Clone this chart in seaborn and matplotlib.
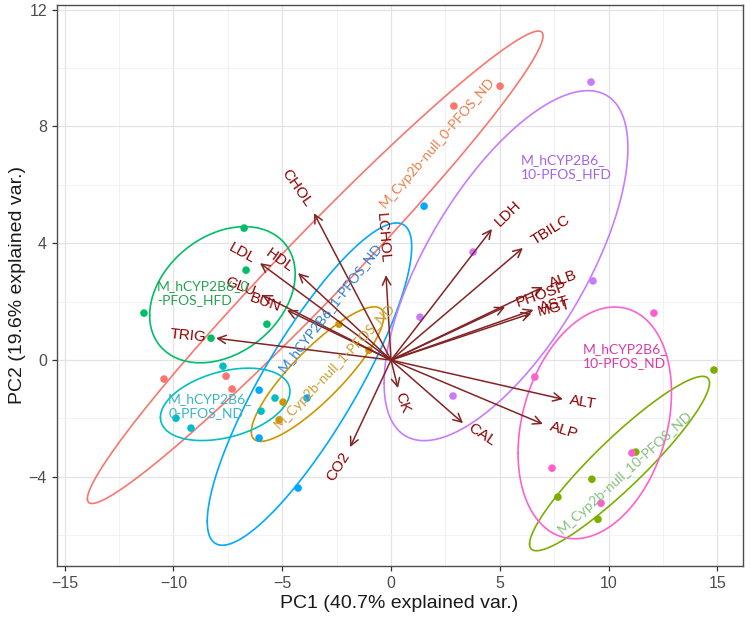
import numpy as np
import pandas as pd
import matplotlib
matplotlib.use('Agg')
import matplotlib.pyplot as plt
import seaborn as sns

# ---- sample scores (PC1 / PC2) per group ----
groups = ['M_Cyp2b-null_0-PFOS_ND', 'M_Cyp2b-null_1-PFOS_ND', 'M_Cyp2b-null_10-PFOS_ND',
          'M_hCYP2B6_0-PFOS_HFD', 'M_hCYP2B6_0-PFOS_ND', 'M_hCYP2B6_1-PFOS_ND',
          'M_hCYP2B6_10-PFOS_HFD', 'M_hCYP2B6_10-PFOS_ND']
group_colors = ['#F8766D', '#CD9600', '#7CAE00', '#00BE67',
                '#00BFC4', '#00A9FF', '#C77CFF', '#FF61CC']

null0_pc1 = [5.01, 2.89, -10.43, -7.58, -7.30]
null0_pc2 = [9.38, 8.70, -0.65, -0.55, -0.99]
null1_pc1 = [-2.39, -1.01, -4.96, -5.14]
null1_pc2 = [1.23, 0.34, -1.44, -2.05]
null10_pc1 = [14.84, 11.25, 9.23, 7.67, 9.51]
null10_pc2 = [-0.34, -3.15, -4.08, -4.69, -5.45]
h0hfd_pc1 = [-6.75, -6.66, -11.35, -5.70, -8.27]
h0hfd_pc2 = [4.52, 3.08, 1.61, 1.23, 0.75]
h0nd_pc1 = [-7.72, -9.88, -9.19, -5.33, -5.97]
h0nd_pc2 = [-0.21, -1.99, -2.33, -1.30, -1.75]
h1nd_pc1 = [1.52, -6.06, -3.86, -6.06, -4.27]
h1nd_pc2 = [5.27, -1.03, -1.30, -2.67, -4.38]
h10hfd_pc1 = [9.19, 3.77, 1.33, 9.28, 2.85]
h10hfd_pc2 = [9.52, 3.70, 1.47, 2.71, -1.23]
h10nd_pc1 = [12.08, 6.61, 7.40, 11.07, 9.65]
h10nd_pc2 = [1.61, -0.58, -3.70, -3.18, -4.90]

# ---- variable loadings (arrow tips) ----
var_names = ['CHOL', 'LDL', 'HDL', 'GLU', 'BUN', 'TRIG', 'LCHOL', 'CK', 'CO2',
             'LDH', 'TBILC', 'ALB', 'PHOSP', 'AST', 'MGT', 'ALT', 'ALP', 'CAL']
var_pc1 = [-3.54, -6.02, -4.27, -5.93, -4.78, -8.04, -0.23, 0.32, -1.88,
           4.64, 6.06, 6.98, 5.24, 6.55, 6.45, 7.90, 6.98, 3.31]
var_pc2 = [5.03, 3.32, 2.98, 2.23, 1.71, 0.75, 2.91, -0.96, -2.98,
           4.49, 3.84, 2.50, 1.82, 1.72, 1.60, -1.34, -2.19, -2.16]

scores = [(null0_pc1, null0_pc2), (null1_pc1, null1_pc2), (null10_pc1, null10_pc2),
          (h0hfd_pc1, h0hfd_pc2), (h0nd_pc1, h0nd_pc2), (h1nd_pc1, h1nd_pc2),
          (h10hfd_pc1, h10hfd_pc2), (h10nd_pc1, h10nd_pc2)]

rows = []
for g, (xs, ys) in zip(groups, scores):
    for x, y in zip(xs, ys):
        rows.append({'PC1': x, 'PC2': y, 'group': g})
df = pd.DataFrame(rows)
palette = dict(zip(groups, group_colors))

# hand-placed group labels: (text, x, y, rotation, ha, colour)
group_labels = [
    ('M_Cyp2b-null_0-PFOS_ND', 2.11, 7.43, 49, 'center', '#E8804A'),
    ('M_hCYP2B6_\n10-PFOS_HFD', 5.97, 6.61, 0, 'left', '#A463E6'),
    ('M_hCYP2B6_\n10-PFOS_ND', 8.82, 0.14, 0, 'left', '#D93BA5'),
    ('M_Cyp2b-null_10-PFOS_ND', 10.75, -3.84, 42, 'center', '#86BE7E'),
    ('M_hCYP2B6_0\n-PFOS_HFD', -10.75, 2.29, 0, 'left', '#27A252'),
    ('M_hCYP2B6_\n0-PFOS_ND', -10.24, -1.58, 0, 'left', '#3AB5C4'),
    ('M_hCYP2B6_1-PFOS_ND', -2.80, 1.82, 52, 'center', '#2E7FD1'),
    ('M_Cyp2b-null_1-PFOS_ND', -2.57, -0.21, 46, 'center', '#C9A035'),
]


def ellipse_points(xs, ys, prob=0.68, n=120):
    """Normal-probability ellipse as drawn by ggbiplot."""
    xs = np.asarray(xs)
    ys = np.asarray(ys)
    sigma = np.cov(xs, ys)
    mu = np.array([xs.mean(), ys.mean()])
    ed = np.sqrt(-2 * np.log(1 - prob))
    theta = np.linspace(-np.pi, np.pi, n)
    circle = np.column_stack([np.cos(theta), np.sin(theta)])
    chol = np.linalg.cholesky(sigma)
    return circle @ chol.T * ed + mu


sns.set_style('white')
plt.rcParams['font.family'] = ['Liberation Sans', 'DejaVu Sans']

fig = plt.figure(figsize=(7.5, 6.21), dpi=100)
ax = fig.add_axes([0.0756, 0.0886, 0.9144, 0.9034])

# grid like theme_bw
ax.set_xticks([-15, -10, -5, 0, 5, 10, 15])
ax.set_xticks([-12.5, -7.5, -2.5, 2.5, 7.5, 12.5], minor=True)
ax.set_yticks([-4, 0, 4, 8, 12])
ax.set_yticks([-6, -2, 2, 6, 10], minor=True)
ax.grid(which='major', color='#E3E3E3', lw=0.9)
ax.grid(which='minor', color='#F0F0F0', lw=0.6)
ax.set_axisbelow(True)

# ellipses
for g, (xs, ys), col in zip(groups, scores, group_colors):
    ell = ellipse_points(xs, ys)
    ax.plot(ell[:, 0], ell[:, 1], color=col, lw=1.2, zorder=2)

# sample points
sns.scatterplot(data=df, x='PC1', y='PC2', hue='group', palette=palette,
                s=30, linewidth=0, legend=False, ax=ax, zorder=3)

# loadings arrows + labels
fs_var = 11
for name, vx, vy in zip(var_names, var_pc1, var_pc2):
    ax.annotate('', xy=(vx, vy), xytext=(0, 0),
                arrowprops=dict(arrowstyle='->,head_length=0.6,head_width=0.3',
                                color='#832424', lw=1.1, shrinkA=0, shrinkB=0),
                zorder=4)
    ang = np.degrees(np.arctan(vy / vx))
    sgn = 1 if vx > 0 else -1
    off = 0.25 * len(name) * 0.62 * fs_var
    dx = sgn * off * np.cos(np.radians(ang))
    dy = sgn * off * np.sin(np.radians(ang))
    ax.annotate(name, xy=(vx, vy), xytext=(dx, dy), textcoords='offset points',
                rotation=ang, rotation_mode='anchor',
                ha='left' if vx > 0 else 'right', va='center',
                color='#8B0000', fontsize=fs_var, zorder=5)

# group labels
for txt, lx, ly, rot, ha, col in group_labels:
    ax.text(lx, ly, txt, rotation=rot, ha=ha, va='center', color=col,
            fontsize=10, family=['Lato', 'DejaVu Sans'], linespacing=1.15,
            rotation_mode='anchor', zorder=6)

ax.set_xlim(-15.36, 16.15)
ax.set_ylim(-7.05, 12.16)
ax.set_xlabel('PC1 (40.7% explained var.)', fontsize=14, color='#1A1A1A', labelpad=3)
ax.set_ylabel('PC2 (19.6% explained var.)', fontsize=14, color='#1A1A1A', labelpad=2)
ax.tick_params(axis='both', which='major', labelsize=11.5, labelcolor='#4D4D4D',
               color='#333333', length=3.5, width=0.9, direction='out',
               bottom=True, left=True)
ax.tick_params(which='minor', length=0)
for s in ax.spines.values():
    s.set_color('#4D4D4D')
    s.set_linewidth(1.0)

fig.savefig('out.png', dpi=100)
